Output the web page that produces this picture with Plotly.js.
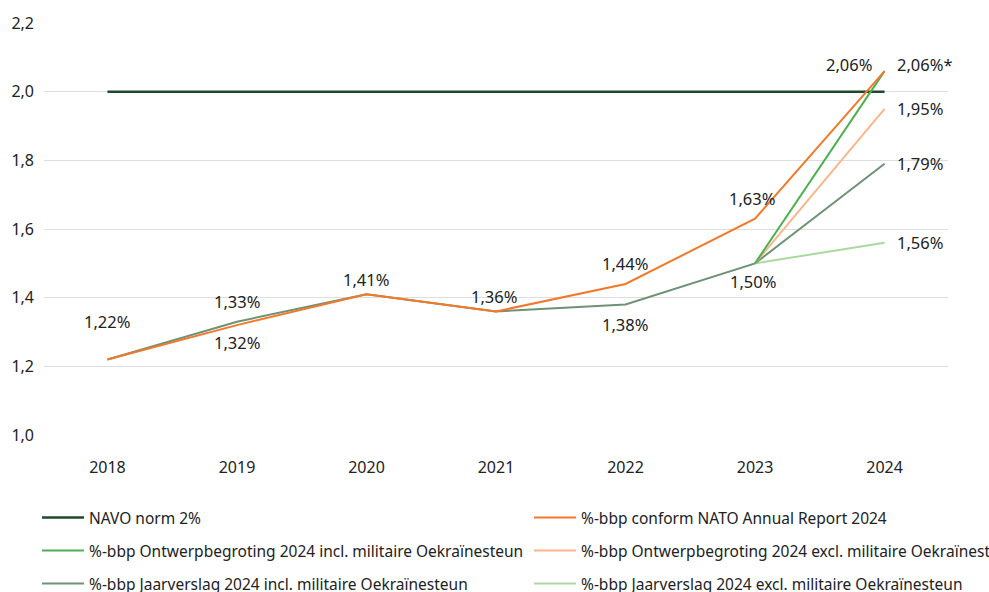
<!DOCTYPE html>
<html>
<head>
<meta charset="utf-8">
<script src="https://cdn.plot.ly/plotly-3.0.1.min.js"></script>
<style>html,body{margin:0;padding:0;background:#fff;}#chart{width:989px;height:592px;}</style>
</head>
<body>
<div id="chart"></div>
<script>
// ---- data ----
const years = ["2018","2019","2020","2021","2022","2023","2024"];
const navoNorm = [2.0, 2.0, 2.0, 2.0, 2.0, 2.0, 2.0];
const natoAnnualReport = [1.22, 1.32, 1.41, 1.36, 1.44, 1.63, 2.06];
const jaarverslagIncl = [1.22, 1.33, 1.41, 1.36, 1.38, 1.50, 1.79];
const jaarverslagExcl = [null, null, null, null, null, 1.50, 1.56];
const ontwerpIncl = [null, null, null, null, null, 1.50, 2.06];
const ontwerpExcl = [null, null, null, null, null, 1.50, 1.95];
const yTicks = [1.0, 1.2, 1.4, 1.6, 1.8, 2.0, 2.2];

const names = {
  navo: "NAVO norm 2%",
  nato: "%-bbp conform NATO Annual Report 2024",
  oIncl: "%-bbp Ontwerpbegroting 2024 incl. militaire Oekraïnesteun",
  oExcl: "%-bbp Ontwerpbegroting 2024 excl. militaire Oekraïnesteun",
  jIncl: "%-bbp Jaarverslag 2024 incl. militaire Oekraïnesteun",
  jExcl: "%-bbp Jaarverslag 2024 excl. militaire Oekraïnesteun"
};

const FONT = '"Noto Sans", "Open Sans", sans-serif';
const TXT = '#222222';

function fmt(v){ return v.toFixed(2).replace('.', ',') + '%'; }

function line(y, name, color, width, legend){
  return {x: years, y: y, type: 'scatter', mode: 'lines', name: name,
    line: {color: color, width: width}, legend: legend,
    connectgaps: false, hoverinfo: 'skip'};
}

const traces = [
  line(navoNorm, names.navo, '#1d4a2b', 2.5, 'legend'),
  line(jaarverslagExcl, names.jExcl, '#a9d9a0', 2, 'legend6'),
  line(jaarverslagIncl, names.jIncl, '#6f9274', 2, 'legend5'),
  line(ontwerpExcl, names.oExcl, '#f9b68a', 2, 'legend4'),
  line(ontwerpIncl, names.oIncl, '#4cb050', 2, 'legend3'),
  line(natoAnnualReport, names.nato, '#f2782a', 2, 'legend2')
];

// data labels: [series, index, xshift, yshift, suffix]
const labelSpecs = [
  [natoAnnualReport, 0, 0, 38, ''],
  [jaarverslagIncl, 1, 0, 20, ''],
  [natoAnnualReport, 1, 0, -17, ''],
  [natoAnnualReport, 2, 0, 15, ''],
  [natoAnnualReport, 3, -2, 15, ''],
  [natoAnnualReport, 4, -1, 20, ''],
  [jaarverslagIncl, 4, -1, -20, ''],
  [natoAnnualReport, 5, -3, 20, ''],
  [jaarverslagIncl, 5, -2, -18, ''],
  [natoAnnualReport, 6, -36, 7, ''],
  [ontwerpIncl, 6, 40, 7, '*'],
  [ontwerpExcl, 6, 35, 0, ''],
  [jaarverslagIncl, 6, 35, 0, ''],
  [jaarverslagExcl, 6, 35, 0, '']
];

const annotations = labelSpecs.map(s => ({
  x: s[1], y: s[0][s[1]], xref: 'x', yref: 'y',
  text: fmt(s[0][s[1]]) + s[4], showarrow: false,
  xshift: s[2], yshift: s[3], xanchor: 'center', yanchor: 'middle',
  font: {family: FONT, size: 16.5, color: TXT}
}));

function legendAt(xpx, ypx){
  return {xref: 'container', yref: 'container',
    x: xpx / 989, y: 1 - ypx / 592, xanchor: 'left', yanchor: 'middle',
    itemwidth: 42,
    font: {family: FONT, size: 15.5, color: TXT},
    bgcolor: 'rgba(0,0,0,0)', borderwidth: 0};
}

const layout = {
  width: 989, height: 592,
  margin: {l: 44, r: 41, t: 23, b: 157, autoexpand: false},
  paper_bgcolor: '#ffffff', plot_bgcolor: '#ffffff',
  separators: ', ',
  font: {family: FONT, size: 16, color: TXT},
  showlegend: true,
  xaxis: {type: 'category', range: [-0.49, 6.49], showgrid: false, zeroline: false,
    showline: false, ticks: '', ticklabelstandoff: 21, automargin: false,
    tickfont: {family: FONT, size: 16, color: TXT}, fixedrange: true},
  yaxis: {range: [1.0, 2.2], tickvals: yTicks, tickformat: '.1f',
    showgrid: true, gridcolor: '#dedede', gridwidth: 1, zeroline: false,
    showline: false, ticks: '', ticklabelstandoff: 9, automargin: false,
    tickfont: {family: FONT, size: 16, color: TXT}, fixedrange: true},
  legend: legendAt(37, 518),
  legend2: legendAt(529, 518),
  legend3: legendAt(37, 551),
  legend4: legendAt(529, 551),
  legend5: legendAt(37, 584),
  legend6: legendAt(529, 584),
  annotations: annotations
};

Plotly.newPlot('chart', traces, layout, {displayModeBar: false, staticPlot: true});
</script>
</body>
</html>
